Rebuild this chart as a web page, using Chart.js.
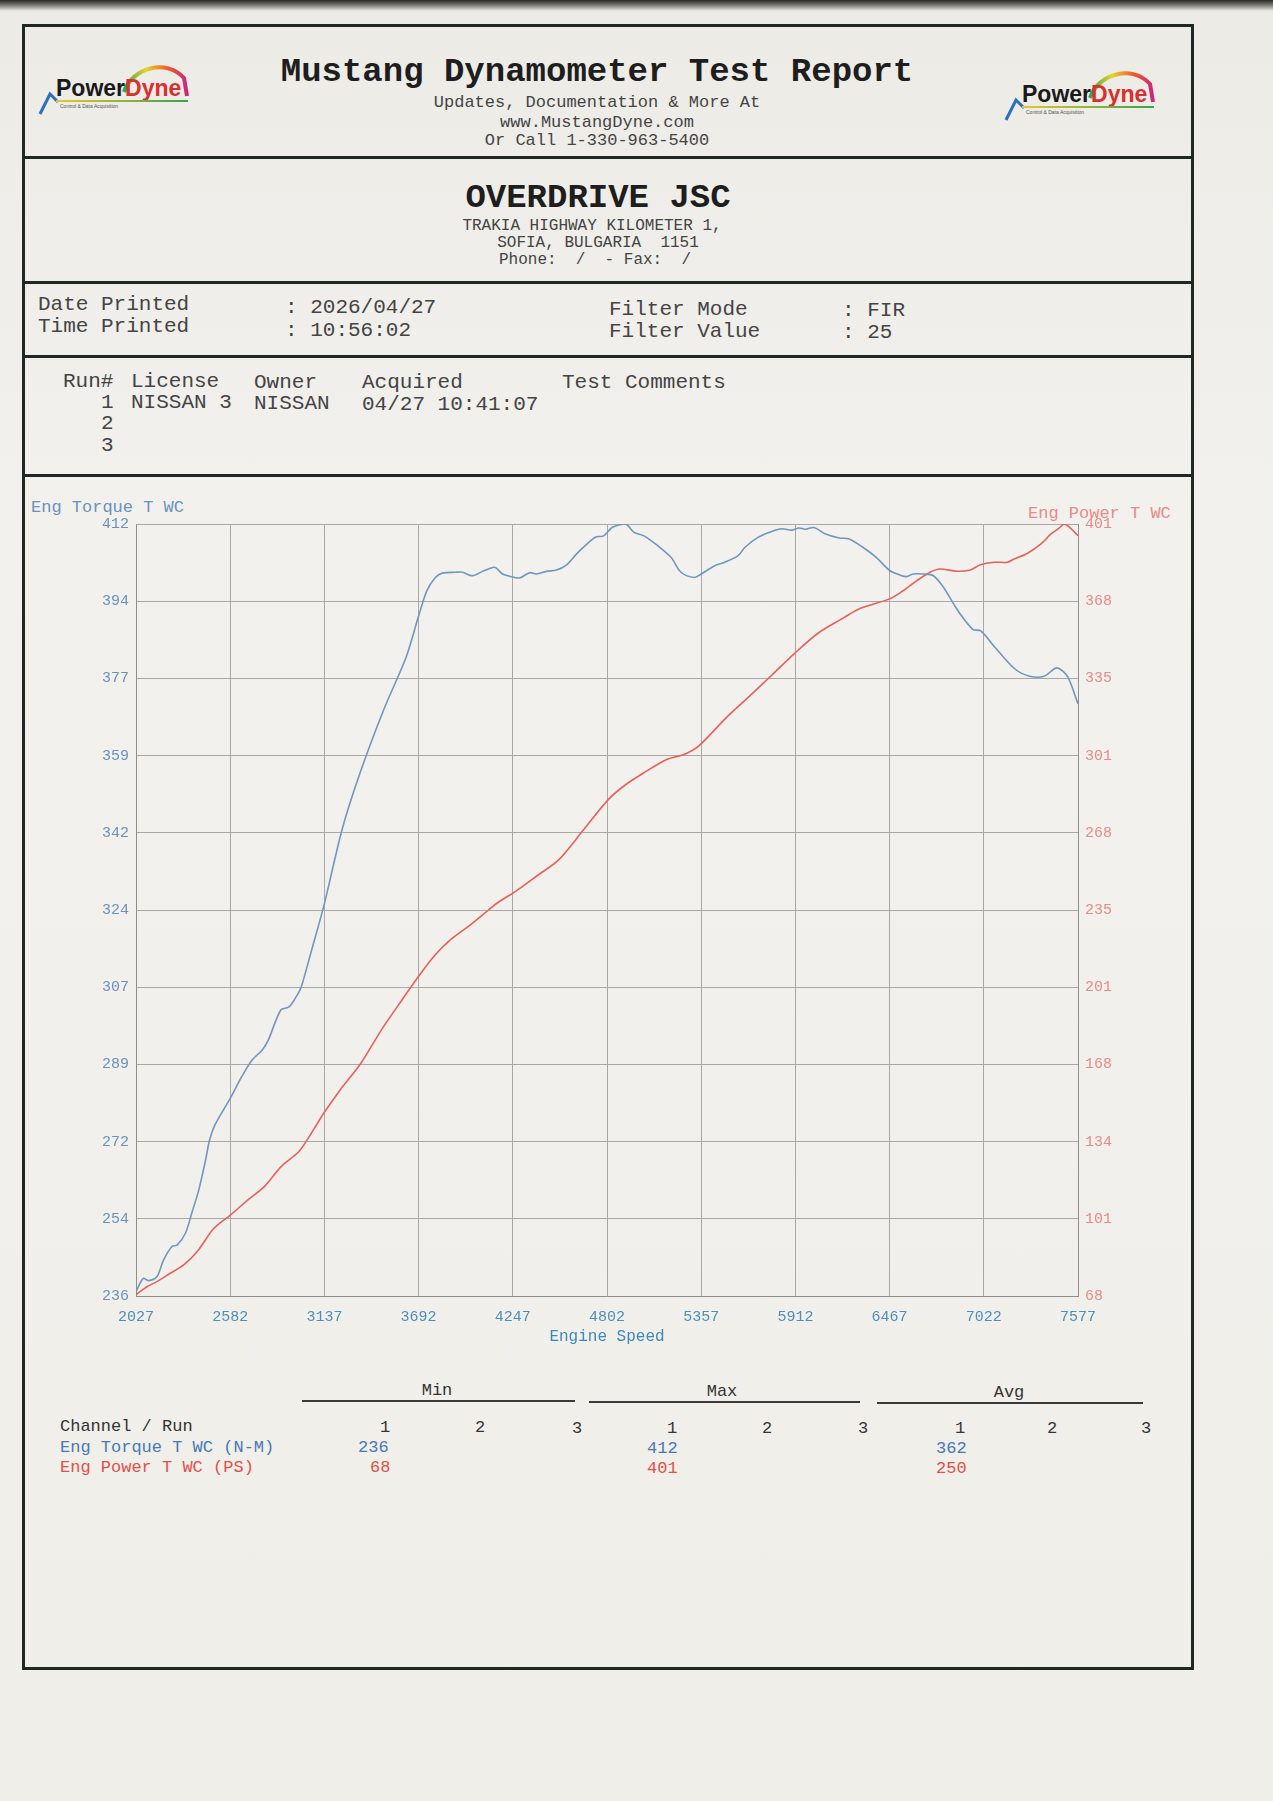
<!DOCTYPE html>
<html>
<head>
<meta charset="utf-8">
<title>Mustang Dynamometer Test Report</title>
<script src="https://cdn.jsdelivr.net/npm/chart.js@4.4.1/dist/chart.umd.min.js"></script>
<style>
  html, body { margin: 0; padding: 0; }
  body {
    width: 1273px; height: 1801px; position: relative; overflow: hidden;
    background: linear-gradient(180deg, #2a2a28 0px, #77766f 5px, #ecebe6 11px, #f2f1ed 30%, #efeee9 100%);
    font-family: "Liberation Mono", "DejaVu Sans Mono", monospace;
    color: #2b2b2b;
  }
  .t { position: absolute; white-space: pre; line-height: 1; transform: translateY(-50%); }
  .c { transform: translate(-50%, -50%); }
  .frame { position: absolute; left: 22px; top: 24px; width: 1166px; height: 1640px; border: 3px solid #1f2823; }
  .rule { position: absolute; left: 22px; width: 1172px; height: 3px; background: #1f2823; }
  .uline { position: absolute; height: 2px; background: #3a3a3a; }
  .logo { position: absolute; }
  #chartBox { position: absolute; left: 0; top: 480px; width: 1273px; height: 900px; }
  .blue { color: #4a78b5; }
  .red { color: #e2504a; }
</style>
</head>
<body>

<div class="frame"></div>
<div class="rule" style="top:156px"></div>
<div class="rule" style="top:281px"></div>
<div class="rule" style="top:355px"></div>
<div class="rule" style="top:474px"></div>

<!-- header -->
<svg class="logo" style="left:36px;top:56px" width="160" height="66" viewBox="0 0 160 66">
  <defs>
    <linearGradient id="rb1" x1="0" x2="1" y1="0" y2="0">
      <stop offset="0" stop-color="#3aa34a"/><stop offset="0.35" stop-color="#e6d42a"/>
      <stop offset="0.7" stop-color="#ee5a2a"/><stop offset="1" stop-color="#c8287a"/>
    </linearGradient>
    <linearGradient id="ul1" x1="0" x2="1"><stop offset="0" stop-color="#e8c62a"/><stop offset="1" stop-color="#3aa34a"/></linearGradient>
  </defs>
  <path d="M88 36 C 96 12, 130 2, 148 22 L 151 40" fill="none" stroke="url(#rb1)" stroke-width="4"/>
  <path d="M4 58 L 14 38 L 22 46" fill="none" stroke="#2a6fc0" stroke-width="3"/>
  <text x="20" y="40" font-family="Liberation Sans" font-weight="bold" font-size="23" fill="#1a1a1a">Power<tspan fill="#d8302e">Dyne</tspan></text>
  <rect x="20" y="44" width="132" height="2" fill="url(#ul1)"/>
  <text x="24" y="52" font-family="Liberation Sans" font-size="5" fill="#555">Control &amp; Data Acquisition</text>
</svg>
<svg class="logo" style="left:1002px;top:62px" width="160" height="66" viewBox="0 0 160 66">
  <defs>
    <linearGradient id="rb2" x1="0" x2="1" y1="0" y2="0">
      <stop offset="0" stop-color="#3aa34a"/><stop offset="0.35" stop-color="#e6d42a"/>
      <stop offset="0.7" stop-color="#ee5a2a"/><stop offset="1" stop-color="#c8287a"/>
    </linearGradient>
    <linearGradient id="ul2" x1="0" x2="1"><stop offset="0" stop-color="#e8c62a"/><stop offset="1" stop-color="#3aa34a"/></linearGradient>
  </defs>
  <path d="M88 36 C 96 12, 130 2, 148 22 L 151 40" fill="none" stroke="url(#rb2)" stroke-width="4"/>
  <path d="M4 58 L 14 38 L 22 46" fill="none" stroke="#2a6fc0" stroke-width="3"/>
  <text x="20" y="40" font-family="Liberation Sans" font-weight="bold" font-size="23" fill="#1a1a1a">Power<tspan fill="#d8302e">Dyne</tspan></text>
  <rect x="20" y="44" width="132" height="2" fill="url(#ul2)"/>
  <text x="24" y="52" font-family="Liberation Sans" font-size="5" fill="#555">Control &amp; Data Acquisition</text>
</svg>

<div class="t c" style="left:597px;top:72px;font-size:34px;font-weight:bold;color:#1e1e1e">Mustang Dynamometer Test Report</div>
<div class="t c" style="left:597px;top:102px;font-size:17px;color:#444">Updates, Documentation &amp; More At</div>
<div class="t c" style="left:597px;top:122px;font-size:17px;color:#444">www.MustangDyne.com</div>
<div class="t c" style="left:597px;top:140px;font-size:17px;color:#444">Or Call 1-330-963-5400</div>

<!-- company -->
<div class="t c" style="left:598px;top:198px;font-size:34px;font-weight:bold;color:#1e1e1e">OVERDRIVE JSC</div>
<div class="t c" style="left:592px;top:226px;font-size:16px;color:#444">TRAKIA HIGHWAY KILOMETER 1,</div>
<div class="t c" style="left:598px;top:243px;font-size:16px;color:#444">SOFIA, BULGARIA  1151</div>
<div class="t c" style="left:595px;top:260px;font-size:16px;color:#444">Phone:  /  - Fax:  /</div>

<!-- print info -->
<div class="t" style="left:38px;top:304px;font-size:21px;color:#444">Date Printed</div>
<div class="t" style="left:38px;top:326px;font-size:21px;color:#444">Time Printed</div>
<div class="t" style="left:285px;top:307px;font-size:21px;color:#444">: 2026/04/27</div>
<div class="t" style="left:285px;top:330px;font-size:21px;color:#444">: 10:56:02</div>
<div class="t" style="left:609px;top:309px;font-size:21px;color:#444">Filter Mode</div>
<div class="t" style="left:609px;top:331px;font-size:21px;color:#444">Filter Value</div>
<div class="t" style="left:842px;top:310px;font-size:21px;color:#444">: FIR</div>
<div class="t" style="left:842px;top:332px;font-size:21px;color:#444">: 25</div>

<!-- runs -->
<div class="t" style="left:63px;top:381px;font-size:21px;color:#444">Run#</div>
<div class="t" style="left:131px;top:381px;font-size:21px;color:#444">License</div>
<div class="t" style="left:254px;top:382px;font-size:21px;color:#444">Owner</div>
<div class="t" style="left:362px;top:382px;font-size:21px;color:#444">Acquired</div>
<div class="t" style="left:562px;top:382px;font-size:21px;color:#444">Test Comments</div>
<div class="t" style="left:101px;top:402px;font-size:21px;color:#444">1</div>
<div class="t" style="left:131px;top:402px;font-size:21px;color:#444">NISSAN 3</div>
<div class="t" style="left:254px;top:403px;font-size:21px;color:#444">NISSAN</div>
<div class="t" style="left:362px;top:404px;font-size:21px;color:#444">04/27 10:41:07</div>
<div class="t" style="left:101px;top:423px;font-size:21px;color:#444">2</div>
<div class="t" style="left:101px;top:445px;font-size:21px;color:#444">3</div>

<!-- chart -->
<div class="t" style="left:31px;top:507px;font-size:17px;color:#6a92bd">Eng Torque T WC</div>
<div class="t" style="left:1028px;top:513px;font-size:17px;color:#e58b88">Eng Power T WC</div>
<div id="chartBox"><canvas id="dyno" width="1273" height="900"></canvas></div>

<!-- stats table -->
<div class="t c" style="left:437px;top:1390px;font-size:17px;color:#333">Min</div>
<div class="t c" style="left:722px;top:1391px;font-size:17px;color:#333">Max</div>
<div class="t c" style="left:1009px;top:1392px;font-size:17px;color:#333">Avg</div>
<div class="uline" style="left:302px;top:1400px;width:273px"></div>
<div class="uline" style="left:589px;top:1401px;width:271px"></div>
<div class="uline" style="left:877px;top:1402px;width:266px"></div>

<div class="t" style="left:60px;top:1426px;font-size:17px;color:#333">Channel / Run</div>
<div class="t c" style="left:385px;top:1427px;font-size:17px;color:#333">1</div>
<div class="t c" style="left:480px;top:1427px;font-size:17px;color:#333">2</div>
<div class="t c" style="left:577px;top:1428px;font-size:17px;color:#333">3</div>
<div class="t c" style="left:672px;top:1428px;font-size:17px;color:#333">1</div>
<div class="t c" style="left:767px;top:1428px;font-size:17px;color:#333">2</div>
<div class="t c" style="left:863px;top:1428px;font-size:17px;color:#333">3</div>
<div class="t c" style="left:960px;top:1428px;font-size:17px;color:#333">1</div>
<div class="t c" style="left:1052px;top:1428px;font-size:17px;color:#333">2</div>
<div class="t c" style="left:1146px;top:1428px;font-size:17px;color:#333">3</div>

<div class="t blue" style="left:60px;top:1447px;font-size:17px">Eng Torque T WC (N-M)</div>
<div class="t blue" style="left:358px;top:1447px;font-size:17px">236</div>
<div class="t blue" style="left:647px;top:1448px;font-size:17px">412</div>
<div class="t blue" style="left:936px;top:1448px;font-size:17px">362</div>
<div class="t red" style="left:60px;top:1467px;font-size:17px">Eng Power T WC (PS)</div>
<div class="t red" style="left:370px;top:1467px;font-size:17px">68</div>
<div class="t red" style="left:647px;top:1468px;font-size:17px">401</div>
<div class="t red" style="left:936px;top:1468px;font-size:17px">250</div>

<script>
// axis tick labels as printed on the sheet
const rpmTicks = [2027, 2582, 3137, 3692, 4247, 4802, 5357, 5912, 6467, 7022, 7577];
const torqueTicks = [236, 254, 272, 289, 307, 324, 342, 359, 377, 394, 412];
const powerTicks = [68, 101, 134, 168, 201, 235, 268, 301, 335, 368, 401];

// Eng Torque T WC (N-M)
const torqueRpm = [2027, 2070, 2100, 2150, 2189, 2239, 2269, 2318, 2358, 2397, 2437, 2460, 2492, 2577,
  2650, 2711, 2771, 2807, 2880, 2929, 2977, 3001, 3062, 3134, 3243, 3353, 3486, 3619, 3692, 3741,
  3791, 3831, 3910, 3950, 4009, 4068, 4128, 4148, 4187, 4227, 4287, 4346, 4386, 4445, 4504, 4564,
  4623, 4683, 4733, 4782, 4832, 4901, 4921, 4961, 5020, 5099, 5179, 5238, 5318, 5357, 5437, 5496,
  5575, 5615, 5694, 5773, 5833, 5892, 5932, 5971, 6021, 6090, 6170, 6229, 6309, 6388, 6467, 6526,
  6566, 6606, 6665, 6725, 6784, 6844, 6883, 6957, 7006, 7081, 7204, 7291, 7378, 7452, 7514, 7577];
const torqueNm = [237, 240, 239.5, 240.4, 244.2, 247.3, 247.6, 250.3, 255.2, 260.2, 267, 271.5, 275, 280.7,
  286, 289.8, 292.1, 294.4, 301.2, 301.9, 304.6, 306.5, 314.9, 325, 342.6, 355.9, 369.6, 381.7, 391, 396.8,
  399.8, 400.8, 401, 401, 400.2, 401.2, 402.1, 402, 400.6, 400.1, 399.7, 400.9, 400.6, 401.2, 401.5, 402.7,
  405.2, 407.4, 409, 409.3, 411.2, 412, 411.8, 410.1, 409.3, 407.1, 404.4, 401, 399.8, 400.6, 402.5, 403.3,
  404.8, 406.7, 409, 410.3, 410.9, 410.6, 411.1, 410.8, 411.2, 409.7, 408.8, 408.6, 406.7, 404.4, 401.4, 400.4,
  400, 400.6, 400.6, 400.2, 397.6, 393.8, 391.5, 388, 387.6, 384.2, 379, 377.3, 377.3, 379.2, 377.3, 371];

// Eng Power T WC (PS)
const powerRpm = [2027, 2091, 2150, 2229, 2308, 2388, 2486, 2585, 2685, 2783, 2882, 2987, 3060, 3133,
  3230, 3352, 3473, 3594, 3691, 3789, 3886, 3995, 4104, 4153, 4274, 4396, 4517, 4663, 4808, 4905,
  5015, 5157, 5256, 5343, 5505, 5653, 5777, 5901, 6049, 6198, 6249, 6300, 6467, 6547, 6626, 6705,
  6764, 6864, 6943, 7002, 7082, 7161, 7200, 7280, 7359, 7418, 7468, 7495, 7518, 7558, 7577];
const powerPs = [68.5, 72, 74.2, 77.8, 81.4, 87.2, 97.2, 103, 109.4, 115.2, 123.8, 130.3, 138.2, 146.8,
  156.9, 168.4, 182.8, 195.7, 205.8, 215.1, 222, 228, 234.5, 237.4, 243.1, 249.6, 256.1, 269, 282, 288.2,
  293.5, 299.5, 301.6, 305.3, 317.5, 327.5, 336.1, 344.8, 354.1, 360.6, 362.9, 364.8, 368.7, 372.2, 376.5, 380.2,
  381.6, 380.6, 381.2, 383.4, 384.5, 384.5, 385.9, 388.4, 392.4, 396.7, 399.3, 401, 400.2, 397.4, 396];

const gridColor = "#a9a8a4";
const monoFont = "'Liberation Mono', 'DejaVu Sans Mono', monospace";

function evenTicks(list) {
  return (scale) => {
    const lo = scale.min, hi = scale.max;
    scale.ticks = list.map((_, i) => ({ value: lo + (i * (hi - lo)) / (list.length - 1) }));
  };
}

new Chart(document.getElementById("dyno"), {
  type: "line",
  data: {
    datasets: [
      {
        label: "Eng Torque T WC",
        data: torqueRpm.map((r, i) => ({ x: r, y: torqueNm[i] })),
        yAxisID: "y",
        borderColor: "#6f97c0",
        borderWidth: 1.6,
        pointRadius: 0,
        tension: 0.3,
      },
      {
        label: "Eng Power T WC",
        data: powerRpm.map((r, i) => ({ x: r, y: powerPs[i] })),
        yAxisID: "y1",
        borderColor: "#e8605a",
        borderWidth: 1.6,
        pointRadius: 0,
        tension: 0.3,
      },
    ],
  },
  options: {
    responsive: false,
    animation: false,
    layout: { padding: { left: 36, right: 115, top: 44, bottom: 34 } },
    plugins: { legend: { display: false }, tooltip: { enabled: false } },
    scales: {
      x: {
        type: "linear",
        min: rpmTicks[0],
        max: rpmTicks[rpmTicks.length - 1],
        afterBuildTicks: (s) => { s.ticks = rpmTicks.map((v) => ({ value: v })); },
        afterFit: (s) => { s.height = 50; },
        grid: { color: gridColor, lineWidth: 1, drawTicks: false },
        border: { color: "#8f8e8a" },
        ticks: {
          autoSkip: false, maxRotation: 0, padding: 12, color: "#4e8fb8",
          font: { family: monoFont, size: 15 },
          callback: (v, i) => rpmTicks[i],
        },
        title: {
          display: true, text: "Engine Speed", color: "#3c88ba",
          font: { family: monoFont, size: 16 }, padding: { top: 1, bottom: 0 },
        },
      },
      y: {
        position: "left",
        min: torqueTicks[0],
        max: torqueTicks[torqueTicks.length - 1],
        afterBuildTicks: evenTicks(torqueTicks),
        afterFit: (s) => { s.width = 100; },
        grid: { color: gridColor, lineWidth: 1, drawTicks: false },
        border: { color: "#8f8e8a" },
        ticks: {
          autoSkip: false, padding: 7, color: "#6a92bd",
          font: { family: monoFont, size: 15 },
          callback: (v, i) => torqueTicks[i],
        },
      },
      y1: {
        position: "right",
        min: powerTicks[0],
        max: powerTicks[powerTicks.length - 1],
        afterBuildTicks: evenTicks(powerTicks),
        afterFit: (s) => { s.width = 80; },
        grid: { drawOnChartArea: false, drawTicks: false },
        border: { color: "#8f8e8a" },
        ticks: {
          autoSkip: false, padding: 7, color: "#e58b88",
          font: { family: monoFont, size: 15 },
          callback: (v, i) => powerTicks[i],
        },
      },
    },
  },
});
</script>
</body>
</html>
